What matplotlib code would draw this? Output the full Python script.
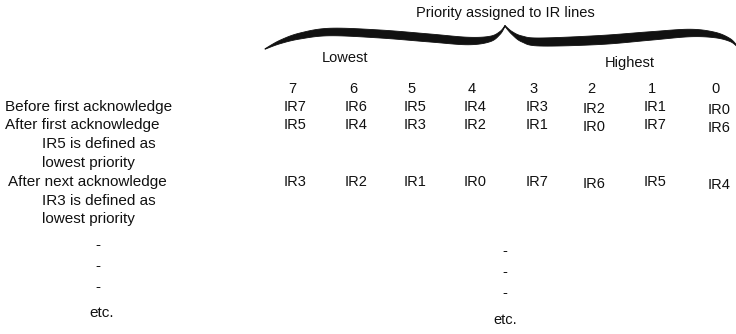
import matplotlib
matplotlib.use("Agg")
import matplotlib.pyplot as plt
import numpy as np
from matplotlib.patches import Polygon

title = "Priority assigned to IR lines"
group_labels = ["Lowest", "Highest"]
priority_levels = ["7", "6", "5", "4", "3", "2", "1", "0"]
row_before_first = ["IR7", "IR6", "IR5", "IR4", "IR3", "IR2", "IR1", "IR0"]
row_after_first = ["IR5", "IR4", "IR3", "IR2", "IR1", "IR0", "IR7", "IR6"]
row_after_next = ["IR3", "IR2", "IR1", "IR0", "IR7", "IR6", "IR5", "IR4"]
left_labels = ["Before first acknowledge", "After first acknowledge",
               "IR5 is defined as", "lowest priority",
               "After next acknowledge", "IR3 is defined as", "lowest priority",
               "-", "-", "-", "etc."]
right_tail = ["-", "-", "-", "etc."]

W, H = 736, 334
fig = plt.figure(figsize=(W / 100, H / 100), dpi=100)
ax = fig.add_axes([0, 0, 1, 1])
ax.set_xlim(0, W)
ax.set_ylim(H, 0)
ax.axis("off")

FONT = "Liberation Sans"
FS = 10.5
INK = "#111111"
kw = dict(family=FONT, fontsize=FS, color=INK, va="center")
kwl = dict(kw, fontsize=11)


def catmull(pts, n=12):
    pts = np.asarray(pts, float)
    P = np.vstack([pts[0], pts, pts[-1]])
    out = []
    for i in range(1, len(P) - 2):
        p0, p1, p2, p3 = P[i - 1], P[i], P[i + 1], P[i + 2]
        for s in np.linspace(0, 1, n, endpoint=False):
            out.append(0.5 * ((2 * p1) + (-p0 + p2) * s
                              + (2 * p0 - 5 * p1 + 4 * p2 - p3) * s ** 2
                              + (-p0 + 3 * p1 - 3 * p2 + p3) * s ** 3))
    out.append(P[-2])
    return np.array(out)


def brace_half(pts):
    c = catmull(pts)
    top = np.column_stack([c[:, 0], c[:, 1] - c[:, 2] / 2])
    bot = np.column_stack([c[:, 0], c[:, 1] + c[:, 2] / 2])
    return top, bot


left_half = [(265, 49, 0.5), (280, 42, 3.5), (300, 36, 6), (330, 32, 7.5),
             (380, 34, 8), (430, 38, 8), (468, 41, 7.5), (490, 39, 5.5),
             (500, 33, 3), (505, 26, 1)]
right_half = [(505, 26, 1), (512, 33, 3), (522, 39, 6), (540, 42, 8),
              (600, 40, 9), (650, 36, 8.5), (690, 33, 7.5), (715, 35, 5.5),
              (730, 40, 3), (737, 46, 1)]
for half in (left_half, right_half):
    top, bot = brace_half(half)
    poly = np.vstack([top, bot[::-1]])
    ax.add_patch(Polygon(poly, closed=True, facecolor=INK, edgecolor=INK, lw=0.6))

# title
ax.text(505, 13, title, ha="center", **kw)
ax.text(345, 58, group_labels[0], ha="center", **kw)
ax.text(630, 63, group_labels[1], ha="center", **kw)

col_x = [295, 356, 415, 475, 537, 594, 655, 719]
col_dy = [0, 0, 0, 0, 0, 2, 0, 3]
for i, lab in enumerate(priority_levels):
    ax.text(col_x[i] - 3, 89, lab, ha="center", **kw)

for rows, y in ((row_before_first, 107), (row_after_first, 125), (row_after_next, 182)):
    for i, lab in enumerate(rows):
        ax.text(col_x[i], y + col_dy[i], lab, ha="center", **kw)

left_pos = [(5, 107, "left"), (5, 125, "left"), (42, 144, "left"), (42, 163, "left"),
            (8, 182, "left"), (42, 201, "left"), (42, 219, "left"),
            (98, 245, "center"), (98, 266, "center"), (98, 287, "center"),
            (102, 313, "center")]
for lab, (x, y, ha) in zip(left_labels, left_pos):
    ax.text(x, y, lab, ha=ha, **kwl)

right_pos = [(505, 251), (505, 272), (505, 293), (505, 320)]
for lab, (x, y) in zip(right_tail, right_pos):
    ax.text(x, y, lab, ha="center", **kw)

fig.savefig("out.png", dpi=100, facecolor="white")
